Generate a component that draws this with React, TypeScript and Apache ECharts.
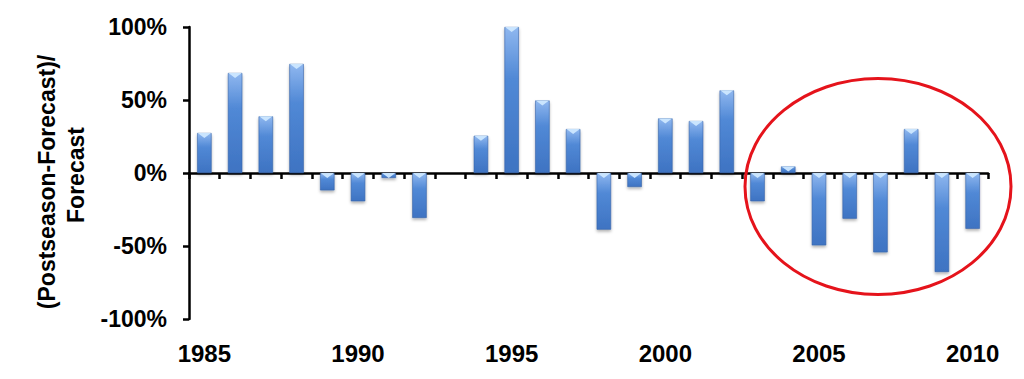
import React, { useEffect, useRef } from "react";
import * as echarts from "echarts";

const years = [
  "1985", "1986", "1987", "1988", "1989", "1990", "1991", "1992", "1993",
  "1994", "1995", "1996", "1997", "1998", "1999", "2000", "2001", "2002",
  "2003", "2004", "2005", "2006", "2007", "2008", "2009", "2010",
];
const values = [
  27.4, 68.5, 38.8, 74.7, -11.9, -19.4, -3.4, -30.8, 0,
  25.5, 100, 49.7, 30.1, -38.8, -9.6, 37.4, 35.6, 56.6,
  -19.4, 4.5, -49.6, -31.3, -54.4, 30.1, -67.8, -38.2,
];
const yTicks = { min: -100, max: 100, interval: 50 };
const yTitleLines = ["(Postseason-Forecast)/", "Forecast"];

const FONT = "'Liberation Sans', Arial, sans-serif";
const BAR_FRAC = 0.47;

export default function App() {
  const ref = useRef<HTMLDivElement>(null);
  useEffect(() => {
    const chart = echarts.init(ref.current!, undefined, { renderer: "svg" });
    const barGrad = new echarts.graphic.LinearGradient(0, 0, 0, 1, [
      { offset: 0, color: "#8fb7ef" },
      { offset: 0.35, color: "#5189d6" },
      { offset: 1, color: "#3e73c2" },
    ]);
    const titleStyle = {
      fill: "#000",
      fontSize: 23,
      fontWeight: "bold",
      fontFamily: FONT,
      textAlign: "center",
      textVerticalAlign: "middle",
    };
    chart.setOption({
      animation: false,
      backgroundColor: "#ffffff",
      grid: { left: 189, right: 36, top: 27, bottom: 60 },
      xAxis: [
        {
          type: "category",
          data: years,
          position: "bottom",
          boundaryGap: true,
          axisLine: { show: true, onZero: true, lineStyle: { color: "#000", width: 2.5 } },
          axisTick: { show: true, interval: 0, length: 6, inside: false, lineStyle: { color: "#000", width: 2.5 } },
          axisLabel: { show: false },
          splitLine: { show: false },
        },
        {
          type: "category",
          data: years,
          position: "bottom",
          boundaryGap: true,
          axisLine: { show: false, onZero: false },
          axisTick: { show: false },
          axisLabel: {
            show: true,
            interval: 4,
            margin: 22,
            color: "#000",
            fontSize: 24,
            fontWeight: "bold",
            fontFamily: FONT,
          },
          splitLine: { show: false },
        },
      ],
      yAxis: {
        type: "value",
        min: yTicks.min,
        max: yTicks.max,
        interval: yTicks.interval,
        axisLine: { show: true, lineStyle: { color: "#000", width: 2.5 } },
        axisTick: { show: true, length: 6, lineStyle: { color: "#000", width: 2.5 } },
        splitLine: { show: false },
        axisLabel: {
          formatter: (v: number) => `${v}%`,
          color: "#000",
          fontSize: 23,
          fontWeight: "bold",
          fontFamily: FONT,
          margin: 22,
          padding: [8, 0, 0, 0],
        },
      },
      series: [
        {
          type: "bar",
          xAxisIndex: 0,
          yAxisIndex: 0,
          data: values,
          barWidth: `${BAR_FRAC * 100}%`,
          itemStyle: {
            color: barGrad,
            borderColor: "#3563a8",
            borderWidth: 0.6,
            shadowColor: "rgba(0,0,0,0.3)",
            shadowBlur: 3,
            shadowOffsetY: 2,
          },
        },
        {
          type: "custom",
          xAxisIndex: 0,
          yAxisIndex: 0,
          data: values.map((v, i) => [i, v]),
          encode: { x: 0, y: 1 },
          silent: true,
          z: 5,
          renderItem: (params: any, api: any) => {
            const idx = api.value(0);
            const v = api.value(1);
            if (!v) return null;
            const top = api.coord([idx, v]);
            const zero = api.coord([idx, 0]);
            const bw = api.size([1, 0])[0] * BAR_FRAC;
            const yTop = Math.min(top[1], zero[1]);
            const h = Math.abs(top[1] - zero[1]);
            const d = Math.min(5, h);
            const x0 = top[0] - bw / 2 + 0.5;
            const x1 = top[0] + bw / 2 - 0.5;
            return {
              type: "polygon",
              shape: { points: [[x0, yTop], [x1, yTop], [top[0], yTop + d]] },
              style: { fill: "rgba(205,232,255,0.95)" },
            };
          },
        },
      ],
      graphic: [
        {
          type: "text",
          x: 47,
          y: 182,
          rotation: Math.PI / 2,
          style: { ...titleStyle, text: yTitleLines[0] },
        },
        {
          type: "text",
          x: 76,
          y: 175,
          rotation: Math.PI / 2,
          style: { ...titleStyle, text: yTitleLines[1] },
        },
        {
          type: "ellipse",
          shape: { cx: 878, cy: 186.5, rx: 133, ry: 108 },
          style: { fill: "none", stroke: "#e5131b", lineWidth: 3 },
          z: 100,
        },
      ],
    });
    return () => chart.dispose();
  }, []);
  return <div ref={ref} style={{ width: 1024, height: 379, position: "absolute", left: 0, top: 0 }} />;
}
